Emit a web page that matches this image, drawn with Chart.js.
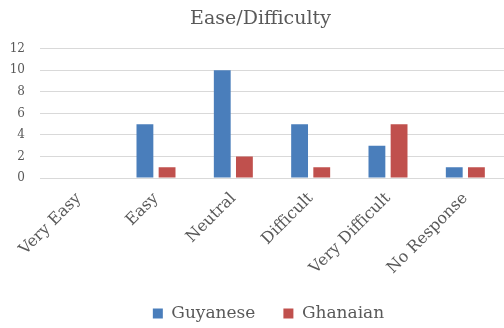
<!DOCTYPE html>
<html>
<head>
<meta charset="utf-8">
<script src="https://cdn.jsdelivr.net/npm/chart.js@4"></script>
<style>
  html, body { margin: 0; padding: 0; background: #fff; }
  #wrap { width: 504px; height: 328px; }
</style>
</head>
<body>
<div id="wrap"><canvas id="myChart"></canvas></div>
<script>
const categories = ['Very Easy', 'Easy', 'Neutral', 'Difficult', 'Very Difficult', 'No Response'];
const guyanese = [0, 5, 10, 5, 3, 1];
const ghanaian = [0, 1, 2, 1, 5, 1];

const fontFamily = '"DejaVu Serif", "Liberation Serif", serif';
const textColor = '#595959';

// nudge the legend a little right and up after layout
const legendShift = {
  id: 'legendShift',
  afterLayout(chart) {
    const lg = chart.legend;
    lg.left += 8; lg.right += 8;
    lg.top -= 4; lg.bottom -= 4;
  }
};

const ctx = document.getElementById('myChart');
const myChart = new Chart(ctx, {
  type: 'bar',
  data: {
    labels: categories,
    datasets: [{
      label: 'Guyanese',
      data: guyanese,
      backgroundColor: '#4a7ebb'
    }, {
      label: 'Ghanaian',
      data: ghanaian,
      backgroundColor: '#c0504d'
    }]
  },
  options: {
    responsive: true,
    maintainAspectRatio: false,
    animation: false,
    categoryPercentage: 0.573,
    barPercentage: 0.76,
    layout: { padding: { left: 10, right: -7, top: 8, bottom: -8 } },
    plugins: {
      title: {
        display: true,
        text: 'Ease/Difficulty',
        color: textColor,
        font: { family: fontFamily, size: 19, weight: 'normal' },
        padding: { top: 0, bottom: 18 }
      },
      legend: {
        position: 'bottom',
        labels: {
          color: textColor,
          font: { family: fontFamily, size: 17 },
          boxWidth: 10,
          boxHeight: 10,
          padding: 28
        }
      },
      tooltip: { enabled: false }
    },
    scales: {
      x: {
        grid: { display: false },
        border: { display: false },
        ticks: {
          color: textColor,
          font: { family: fontFamily, size: 16 },
          minRotation: 45,
          maxRotation: 45
        },
        // let the first rotated label run into the left margin
        afterFit: (scale) => {
          scale.paddingLeft = 0;
          scale.paddingRight = 0;
        }
      },
      y: {
        min: 0,
        max: 12,
        border: { display: false },
        grid: { color: '#d9d9d9', drawTicks: false },
        ticks: {
          stepSize: 2,
          padding: 15,
          color: textColor,
          font: { family: fontFamily, size: 12 }
        },
        afterFit: (scale) => {
          scale.width = 30;
        }
      }
    }
  },
  plugins: [legendShift]
});
</script>
</body>
</html>
